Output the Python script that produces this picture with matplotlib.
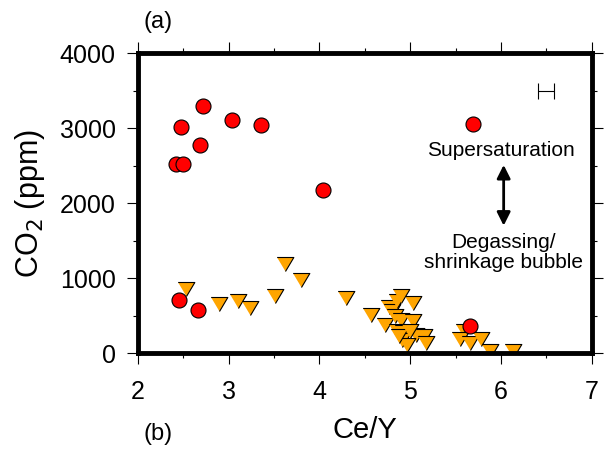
import numpy as np
import matplotlib
matplotlib.use("Agg")
import matplotlib.pyplot as plt
from matplotlib.ticker import MultipleLocator

plt.rcParams["font.family"] = ["Liberation Sans", "DejaVu Sans"]

# red circles (Ce/Y, CO2 ppm)
circle_x = [2.72, 2.47, 3.04, 3.36, 2.68, 2.42, 2.50, 4.04, 5.69, 2.45, 2.66, 5.66]
circle_y = [3290, 3010, 3110, 3045, 2770, 2520, 2520, 2180, 3050, 710, 580, 360]

# orange triangles
tri_x = [2.53, 2.89, 3.10, 3.24, 3.51, 3.62, 3.80, 4.29, 4.57,
         4.72, 4.77, 4.80, 4.83, 4.86, 4.90, 5.03, 4.90, 5.03, 4.86,
         4.92, 5.06, 5.15, 5.17, 4.91, 4.96, 4.88, 5.00,
         5.59, 5.55, 5.66, 5.78, 5.88, 6.13]
tri_y = [855, 650, 690, 600, 765, 1195, 975, 735, 505,
         380, 620, 560, 500, 690, 760, 670, 440, 430, 300,
         280, 240, 230, 130, 180, 110, 230, 300,
         300, 190, 140, 190, 30, 30]

# uncertainty bar
err_x = [6.5]
err_y = [3500]
err_dx = [0.09]

fig = plt.figure(figsize=(6.05, 4.5), dpi=100)
ax = fig.add_axes([0.228, 0.215, 0.750, 0.667])

tri_marker = [(-1, 0.84), (1, 0.84), (0, -0.84)]
ax.plot(tri_x, tri_y, linestyle="none", marker=tri_marker, markersize=12,
        markerfacecolor="#ffa500", markeredgecolor="black", markeredgewidth=0.8)
ax.plot(circle_x, circle_y, linestyle="none", marker="o", markersize=10.8,
        markerfacecolor="#ff0000", markeredgecolor="black", markeredgewidth=0.8)

ax.errorbar(err_x, err_y, xerr=err_dx, fmt="none", ecolor="black",
            elinewidth=0.8, capsize=5.5, capthick=0.8)

ax.text(6.0, 2700, "Supersaturation", ha="center", va="center", fontsize=15)
ax.text(6.03, 1340, "Degassing/\nshrinkage bubble", ha="center", va="center",
        fontsize=15, linespacing=1.1)
ax.annotate("", xy=(6.03, 2510), xytext=(6.03, 1700),
            arrowprops=dict(arrowstyle="<|-|>", color="black", lw=2,
                            mutation_scale=20, shrinkA=0, shrinkB=0))

ax.set_xlim(2, 7)
ax.set_ylim(0, 4000)
ax.xaxis.set_major_locator(MultipleLocator(1))
ax.xaxis.set_minor_locator(MultipleLocator(0.5))
ax.yaxis.set_major_locator(MultipleLocator(1000))
ax.yaxis.set_minor_locator(MultipleLocator(500))
ax.tick_params(which="both", direction="out", top=True, right=True,
               labeltop=False, labelright=False, width=0.8, labelsize=18)
ax.tick_params(axis="x", pad=11)
ax.tick_params(axis="y", pad=8)
ax.tick_params(which="major", length=8)
ax.tick_params(which="minor", length=3.5)
for s in ax.spines.values():
    s.set_linewidth(3.5)

ax.set_xlabel("Ce/Y", fontsize=21, labelpad=9)
ax.set_ylabel("CO$_2$ (ppm)", fontsize=22, labelpad=9)

fig.text(0.262, 0.952, "(a)", fontsize=17, ha="center", va="center")
fig.text(0.262, 0.035, "(b)", fontsize=17, ha="center", va="center")

fig.savefig("out.png", dpi=100)
